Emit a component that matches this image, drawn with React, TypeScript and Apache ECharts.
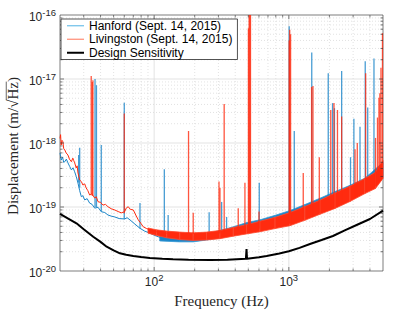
import React, { useEffect, useRef } from 'react';
import * as echarts from 'echarts';

// ---------- data ----------
const xMajorTicks = [100, 1000];
const xMinorTicks = [30, 40, 50, 60, 70, 80, 90, 200, 300, 400, 500, 600, 700, 800, 900, 2000, 3000, 4000];
const yMajorTicks = [1e-19, 1e-18, 1e-17];
const yMinorTicks = [
  2e-20, 3e-20, 4e-20, 5e-20, 6e-20, 7e-20, 8e-20, 9e-20,
  2e-19, 3e-19, 4e-19, 5e-19, 6e-19, 7e-19, 8e-19, 9e-19,
  2e-18, 3e-18, 4e-18, 5e-18, 6e-18, 7e-18, 8e-18, 9e-18,
  2e-17, 3e-17, 4e-17, 5e-17, 6e-17, 7e-17, 8e-17, 9e-17,
];

const hanfordName = 'Hanford (Sept. 14, 2015)';
const livingstonName = 'Livingston (Sept. 14, 2015)';
const designName = 'Design Sensitivity';

// [frequency Hz, displacement]
const hanfordLine: [number, number][] = [
  [20, 7.0e-19], [20.2, 6.2e-19], [20.4, 5.4e-19], [20.9, 6.0e-19], [21.3, 5.0e-19], [21.7, 5.1e-19],
  [22.3, 5.6e-19], [22.9, 4.9e-19], [23.6, 4.3e-19], [24.3, 3.8e-19], [25.0, 4.1e-19], [25.7, 3.55e-19],
  [26.4, 3.0e-19], [27.2, 2.37e-19], [28.0, 1.8e-19], [28.8, 1.45e-19], [29.6, 1.5e-19], [30.5, 1.29e-19],
  [31.8, 1.35e-19], [33.2, 1.15e-19], [34.6, 1.1e-19], [36.2, 9.6e-20], [38.3, 9.9e-20], [40.5, 8.45e-20],
  [43, 8.2e-20], [45.4, 7.5e-20], [48, 7.2e-20], [50.9, 7.0e-20], [55, 6.6e-20], [60.4, 6.5e-20],
  [63, 6.8e-20], [66.1, 6.3e-20], [72, 5.4e-20], [78.4, 4.65e-20], [85, 4.2e-20], [93.1, 3.9e-20],
  [104, 3.5e-20], [116, 3.25e-20], [130, 3.1e-20], [147, 3.05e-20], [165, 3.0e-20], [185, 3.05e-20],
  [205, 3.0e-20], [230, 3.1e-20], [265, 3.25e-20], [308, 3.4e-20],
];
const livingstonLine: [number, number][] = [
  [20, 1.18e-18], [20.2, 1.35e-18], [20.4, 9.3e-19], [20.7, 1.1e-18], [21.0, 1.05e-18], [21.3, 8.2e-19],
  [21.7, 7.8e-19], [22.2, 7.0e-19], [22.9, 6.5e-19], [23.5, 5.6e-19], [24.3, 5.1e-19], [24.9, 5.8e-19],
  [25.3, 5.3e-19], [25.7, 4.9e-19], [26.4, 4.07e-19], [26.8, 4.4e-19], [27.2, 3.4e-19], [28.0, 2.64e-19],
  [28.8, 2.5e-19], [29.6, 2.2e-19], [30.5, 2.3e-19], [31.3, 1.98e-19], [32.2, 1.8e-19], [33.2, 1.54e-19],
  [34.5, 1.6e-19], [36.2, 1.38e-19], [37.2, 1.45e-19], [38.3, 1.21e-19], [40.0, 1.18e-19], [41.7, 1.07e-19],
  [43.5, 1.1e-19], [45.4, 1.01e-19], [48, 9.4e-20], [50.9, 9.0e-20], [54, 8.5e-20], [57.0, 8.1e-20],
  [60.4, 8.45e-20], [62, 9.6e-20], [64.2, 1.01e-19], [66.5, 9.2e-20], [70.0, 9.0e-20], [73, 7.5e-20],
  [76.2, 6.3e-20], [79.5, 5.6e-20], [83.0, 4.9e-20], [88, 4.6e-20], [93.1, 4.4e-20], [98, 4.3e-20],
  [104, 4.1e-20], [112, 4.0e-20], [124, 3.9e-20],
];

// [frequency, lower edge, upper edge] of the dense noise band
const hanfordBand: [number, number, number][] = [
  [110, 2.95e-20, 3.6e-20], [155, 2.85e-20, 3.5e-20], [195, 2.85e-20, 3.5e-20], [245, 3.05e-20, 3.8e-20],
  [308, 3.3e-20, 4.3e-20], [387, 3.7e-20, 4.9e-20], [486, 4.1e-20, 5.7e-20], [610, 4.4e-20, 6.3e-20],
  [790, 5.0e-20, 7.4e-20], [1019, 5.9e-20, 8.8e-20], [1315, 7.2e-20, 1.09e-19], [1703, 8.9e-20, 1.37e-19],
  [2200, 1.1e-19, 1.74e-19], [2845, 1.38e-19, 2.18e-19], [3670, 1.75e-19, 2.82e-19], [5000, 2.9e-19, 5.0e-19],
];
const livingstonBand: [number, number, number][] = [
  [90, 3.9e-20, 4.7e-20], [104, 3.6e-20, 4.4e-20], [124, 3.3e-20, 4.2e-20], [155, 3.1e-20, 4.05e-20],
  [195, 3.0e-20, 3.95e-20], [245, 3.05e-20, 4.05e-20], [308, 3.2e-20, 4.3e-20], [387, 3.5e-20, 4.8e-20],
  [486, 3.8e-20, 5.3e-20], [610, 4.1e-20, 6.0e-20], [790, 4.6e-20, 6.9e-20], [1019, 5.1e-20, 8.2e-20],
  [1315, 6.2e-20, 1.02e-19], [1703, 7.7e-20, 1.28e-19], [2200, 9.5e-20, 1.65e-19], [2845, 1.22e-19, 2.12e-19],
  [3670, 1.62e-19, 2.8e-19], [4400, 1.95e-19, 3.5e-19], [5000, 2.8e-19, 5.3e-19],
];

// [frequency, foot, peak] of the narrow lines
const hanfordSpikes: [number, number, number][] = [
  [27.5, 2.4e-19, 6.5e-19], [28.0, 2.0e-19, 8.4e-19], [36.4, 1.0e-19, 1.0e-17], [37.3, 1.0e-19, 8.0e-18],
  [40.5, 8.5e-20, 9.3e-19], [60, 6.5e-20, 4.26e-18], [78.5, 4.6e-20, 1.15e-19], [119, 3.2e-20, 3.9e-19],
  [127, 3.1e-20, 7.5e-20], [256, 3.1e-20, 8.3e-20], [317, 3.4e-20, 1.2e-19], [345, 3.5e-20, 7.0e-20],
  [486, 4.0e-20, 5.6e-20], [603, 4.5e-20, 2.4e-19], [1006, 6.0e-20, 6.7e-17], [1097, 6.5e-20, 1.54e-18],
  [1479, 7.5e-20, 2.6e-17], [1961, 1.0e-19, 1.23e-17], [2110, 1.05e-19, 4.2e-18], [2180, 1.1e-19, 3.5e-18],
  [2466, 1.2e-19, 1.33e-17], [2870, 1.4e-19, 6.0e-19], [3040, 1.5e-19, 2.4e-18], [3375, 1.6e-19, 1.8e-18],
  [3690, 1.75e-19, 1.9e-17], [3850, 1.8e-19, 3.6e-18], [4285, 2.0e-19, 2.1e-17],
];
const livingstonSpikes: [number, number, number][] = [
  [34.1, 1.6e-19, 1.11e-17], [34.7, 1.5e-19, 9.0e-18], [35.1, 1.5e-19, 9.6e-18], [60, 8.0e-20, 2.9e-18],
  [180, 3.8e-20, 1.54e-18], [195, 3.8e-20, 8.1e-20], [303, 3.9e-20, 2.5e-19], [308, 3.9e-20, 2.0e-19],
  [331, 4.0e-20, 4.07e-18], [421, 4.2e-20, 9.6e-20], [472, 4.4e-20, 2.4e-19], [501, 4.5e-20, 6.2e-17],
  [507, 4.5e-20, 2e-16], [513, 4.5e-20, 2e-16], [519, 4.5e-20, 2e-16], [600, 4.6e-20, 8.5e-20],
  [1005, 5.5e-20, 4.0e-17], [1015, 5.5e-20, 5.9e-17], [1030, 5.5e-20, 5.0e-17], [1279, 6.5e-20, 3.4e-19],
  [1475, 7.0e-20, 7.5e-18], [1510, 7.0e-20, 7.8e-18], [1683, 8.0e-20, 6.0e-19], [2047, 9.0e-20, 3.28e-18],
  [2163, 9.5e-20, 4.2e-18], [2296, 1.0e-19, 3.28e-18], [2466, 1.1e-19, 2.6e-18], [3100, 1.4e-19, 8.0e-19],
  [3221, 1.45e-19, 1.0e-18], [3718, 1.7e-19, 1.23e-17], [4400, 2.1e-19, 1.2e-18], [4550, 2.3e-19, 2.5e-18],
  [4666, 2.4e-19, 5.1e-18], [4740, 2.5e-19, 6.0e-18], [4830, 2.6e-19, 1.5e-17], [4955, 2.8e-19, 5.2e-17],
];

const designSensitivity: [number, number][] = [
  [20, 7.78e-20], [23, 6.6e-20], [26.5, 5.56e-20], [30, 4.5e-20], [35.3, 3.43e-20], [40, 2.85e-20],
  [44.4, 2.4e-20], [50, 2.1e-20], [55.7, 1.89e-20], [62, 1.8e-20], [70, 1.72e-20], [80, 1.65e-20],
  [93, 1.6e-20], [115, 1.55e-20], [138, 1.52e-20], [180, 1.5e-20], [260, 1.49e-20], [350, 1.5e-20],
  [480, 1.55e-20], [485, 2.2e-20], [487, 2.2e-20], [489, 1.56e-20], [600, 1.64e-20], [684, 1.72e-20],
  [850, 1.88e-20], [1000, 2.03e-20], [1200, 2.3e-20], [1435, 2.64e-20], [1750, 3.05e-20], [2125, 3.52e-20],
  [2600, 4.3e-20], [3185, 5.23e-20], [4000, 6.5e-20], [5000, 8.75e-20],
];

// ---------- styling ----------
const SANS = 'Liberation Sans';
const SERIF = 'Liberation Serif';
const AXIS = '#262626';
const BLUE = '#1a85c8';
const RED = '#ff2b0f';
const BLUE_LEG = '#6cbfe9';
const RED_LEG = '#ff8b73';

const powLabel = (v: number) => {
  const l = Math.log10(v);
  const e = Math.round(l);
  if (Math.abs(l - e) > 1e-6) return '';
  return `{b|10}{s|${e}}`;
};
const labelRich = {
  b: { fontFamily: SANS, fontSize: 12, lineHeight: 12, color: AXIS, padding: [4, 0, 0, 0] },
  s: { fontFamily: SANS, fontSize: 9.5, lineHeight: 10, color: AXIS, padding: [0, 0, 6, 0] },
};

const xTickData = [
  ...xMajorTicks.map((f) => [f, 1e-18, 1]),
  ...xMinorTicks.map((f) => [f, 1e-18, 0]),
];
const yTickData = [
  ...yMajorTicks.map((v) => [100, v, 1]),
  ...yMinorTicks.map((v) => [100, v, 0]),
];

function gridLines(data: number[][], dir: 'x' | 'y') {
  return {
    type: 'custom', silent: true, z: 1, data, encode: { x: 0, y: 1 },
    renderItem: (params: any, api: any) => {
      const cs = params.coordSys;
      const major = api.value(2) === 1;
      const p = api.coord([api.value(0), api.value(1)]);
      const style: any = major
        ? { stroke: '#dcdcdc', lineWidth: 0.8 }
        : { stroke: '#d6d6d6', lineWidth: 0.7, lineDash: [1, 2] };
      if (dir === 'x') return { type: 'line', shape: { x1: p[0], y1: cs.y, x2: p[0], y2: cs.y + cs.height }, style };
      return { type: 'line', shape: { x1: cs.x, y1: p[1], x2: cs.x + cs.width, y2: p[1] }, style };
    },
  };
}

function ticks(data: number[][], dir: 'x' | 'y') {
  return {
    type: 'custom', silent: true, z: 8, data, encode: { x: 0, y: 1 },
    renderItem: (params: any, api: any) => {
      const cs = params.coordSys;
      const len = api.value(2) === 1 ? 4 : 2.5;
      const p = api.coord([api.value(0), api.value(1)]);
      const style = { stroke: AXIS, lineWidth: 0.6 };
      if (dir === 'x') {
        const b = cs.y + cs.height;
        return {
          type: 'group', children: [
            { type: 'line', shape: { x1: p[0], y1: b, x2: p[0], y2: b - len }, style },
            { type: 'line', shape: { x1: p[0], y1: cs.y, x2: p[0], y2: cs.y + len }, style },
          ],
        };
      }
      const r = cs.x + cs.width;
      return {
        type: 'group', children: [
          { type: 'line', shape: { x1: cs.x, y1: p[1], x2: cs.x + len, y2: p[1] }, style },
          { type: 'line', shape: { x1: r, y1: p[1], x2: r - len, y2: p[1] }, style },
        ],
      };
    },
  };
}

function band(name: string, data: [number, number, number][], color: string, edge: string, z: number) {
  return {
    name, type: 'custom', silent: true, z, data, encode: { x: 0, y: [1, 2] },
    renderItem: (params: any, api: any) => {
      const i = params.dataIndexInside;
      if (i >= data.length - 1) return null;
      const a = api.coord([api.value(0, i), api.value(2, i)]);
      const b = api.coord([api.value(0, i + 1), api.value(2, i + 1)]);
      const c = api.coord([api.value(0, i + 1), api.value(1, i + 1)]);
      const d = api.coord([api.value(0, i), api.value(1, i)]);
      return {
        type: 'polygon', shape: { points: [a, b, c, d] },
        style: { fill: color, stroke: edge, lineWidth: 0.8 },
      };
    },
  };
}

function spikes(name: string, data: [number, number, number][], color: string, z: number) {
  return {
    name, type: 'custom', silent: true, z, data, encode: { x: 0, y: [1, 2] },
    renderItem: (params: any, api: any) => {
      const cs = params.coordSys;
      const p1 = api.coord([api.value(0), api.value(1)]);
      const p2 = api.coord([api.value(0), api.value(2)]);
      return {
        type: 'line',
        shape: { x1: p1[0], y1: p1[1], x2: p1[0], y2: Math.max(p2[1], cs.y) },
        style: { stroke: color, lineWidth: 1.3, opacity: 0.8 },
      };
    },
  };
}

function buildOption() {
  const yFont = 15;
  const ctx = document.createElement('canvas').getContext('2d')!;
  ctx.font = `${yFont}px "${SERIF}"`;
  const yTitle = 'Displacement (m/√Hz)';
  const W = ctx.measureText(yTitle).width;
  const w1 = ctx.measureText('Displacement (m/√').width;
  const w2 = ctx.measureText('Hz').width;

  return {
    animation: false,
    backgroundColor: '#fff',
    grid: {
      left: 60, top: 15, width: 323, height: 256, show: true,
      borderColor: AXIS, borderWidth: 0.6, backgroundColor: 'transparent',
      containLabel: false, outerBoundsMode: 'none',
    },
    xAxis: {
      type: 'log', logBase: 10, min: 20, max: 5000,
      axisLine: { show: false }, axisTick: { show: false }, splitLine: { show: false },
      axisLabel: { formatter: powLabel, rich: labelRich, margin: 3 },
      name: 'Frequency (Hz)', nameLocation: 'middle', nameGap: 22, nameMoveOverlap: false,
      nameTextStyle: { fontFamily: SERIF, fontSize: 15, color: AXIS },
    },
    yAxis: {
      type: 'log', logBase: 10, min: 1e-20, max: 1e-16,
      axisLine: { show: false }, axisTick: { show: false }, splitLine: { show: false },
      axisLabel: { formatter: powLabel, rich: labelRich, margin: 4 },
    },
    legend: {
      orient: 'vertical', left: 61, top: 19, z: 10,
      itemWidth: 17, itemHeight: 10, itemGap: 0,
      padding: [0, 5, 0, 6],
      backgroundColor: '#fff', borderColor: AXIS, borderWidth: 0.8,
      textStyle: { fontFamily: SANS, fontSize: 12, lineHeight: 13.5, color: '#000' },
      selectedMode: false,
      data: [
        { name: hanfordName, icon: 'path://M0,0L0,0M0,4.4H17V5.6H0ZM0,10L0,10', itemStyle: { color: BLUE_LEG } },
        { name: livingstonName, icon: 'path://M0,0L0,0M0,4.4H17V5.6H0ZM0,10L0,10', itemStyle: { color: RED_LEG } },
        { name: designName, icon: 'path://M0,0L0,0M0,4H17V6H0ZM0,10L0,10', itemStyle: { color: '#000' } },
      ],
    },
    graphic: [
      {
        type: 'group', x: 13, y: 146, rotation: Math.PI / 2, silent: true,
        children: [
          { type: 'text', x: 0, y: 0, style: { text: yTitle, fontFamily: SERIF, fontSize: yFont, fill: AXIS, align: 'center', verticalAlign: 'middle' } },
          { type: 'line', shape: { x1: -W / 2 + w1 - 0.5, y1: -yFont * 0.45, x2: -W / 2 + w1 + w2 + 0.5, y2: -yFont * 0.45 }, style: { stroke: AXIS, lineWidth: 0.7 } },
        ],
      },
    ],
    series: [
      gridLines(xTickData, 'x'),
      gridLines(yTickData, 'y'),
      { name: hanfordName, type: 'line', data: hanfordLine, symbol: 'none', z: 3, lineStyle: { color: BLUE, width: 1 }, itemStyle: { color: BLUE_LEG } },
      band(hanfordName, hanfordBand, BLUE, '#3a9ad6', 3),
      spikes(hanfordName, hanfordSpikes, BLUE, 3),
      { name: livingstonName, type: 'line', data: livingstonLine, symbol: 'none', z: 4, lineStyle: { color: RED, width: 1 }, itemStyle: { color: RED_LEG } },
      band(livingstonName, livingstonBand, RED, '#ff4a30', 4),
      spikes(livingstonName, livingstonSpikes, RED, 4),
      { name: designName, type: 'line', data: designSensitivity, symbol: 'none', z: 5, lineStyle: { color: '#000', width: 2 }, itemStyle: { color: '#000' } },
      ticks(xTickData, 'x'),
      ticks(yTickData, 'y'),
    ],
  };
}

export default function App() {
  const ref = useRef<HTMLDivElement>(null);
  useEffect(() => {
    const chart = echarts.init(ref.current!, null, { renderer: 'svg' });
    chart.setOption(buildOption() as any);
    return () => chart.dispose();
  }, []);
  return (
    <div
      ref={ref}
      style={{ position: 'fixed', left: 0, top: 0, width: 415, height: 311, background: '#fff' }}
    />
  );
}
